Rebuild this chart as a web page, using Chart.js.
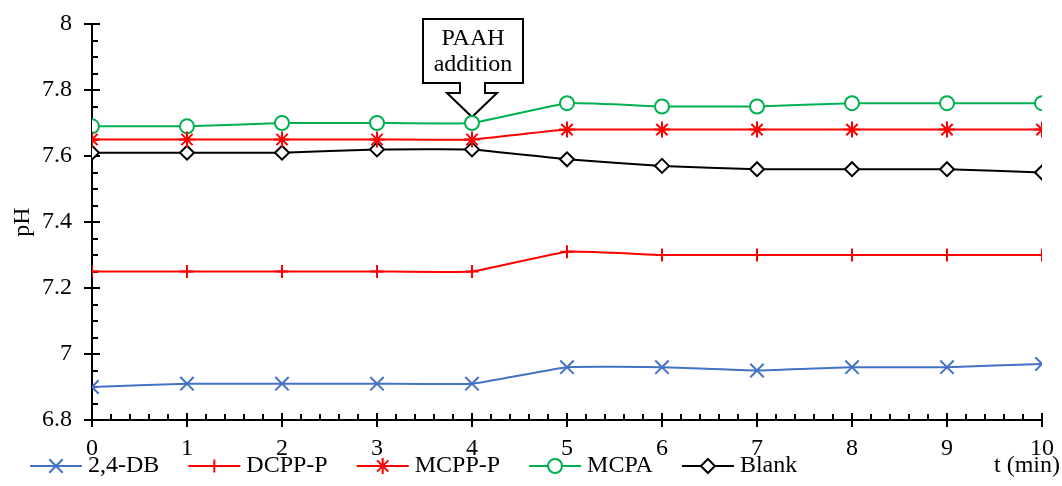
<!DOCTYPE html>
<html>
<head>
<meta charset="utf-8">
<script src="https://cdn.jsdelivr.net/npm/chart.js@4"></script>
<style>
  body { margin: 0; background: #fff; }
  #wrap { width: 1062px; height: 486px; position: relative; }
</style>
</head>
<body>
<div id="wrap"><canvas id="myChart"></canvas></div>
<script>
// data
const times = [0, 1, 2, 3, 4, 5, 6, 7, 8, 9, 10];
const db24 = [6.90, 6.91, 6.91, 6.91, 6.91, 6.96, 6.96, 6.95, 6.96, 6.96, 6.97];
const dcppP = [7.25, 7.25, 7.25, 7.25, 7.25, 7.31, 7.30, 7.30, 7.30, 7.30, 7.30];
const mcppP = [7.65, 7.65, 7.65, 7.65, 7.65, 7.68, 7.68, 7.68, 7.68, 7.68, 7.68];
const mcpa = [7.69, 7.69, 7.70, 7.70, 7.70, 7.76, 7.75, 7.75, 7.76, 7.76, 7.76];
const blank = [7.61, 7.61, 7.61, 7.62, 7.62, 7.59, 7.57, 7.56, 7.56, 7.56, 7.55];
const seriesNames = ['2,4-DB', 'DCPP-P', 'MCPP-P', 'MCPA', 'Blank'];
const yTicks = [6.8, 7, 7.2, 7.4, 7.6, 7.8, 8];
const annotationAt = { t: 4, ph: 7.70 };

const FONT = '"Liberation Serif", "Times New Roman", serif';
const FS = 24;

function pts(arr) {
  return arr.map((v, i) => ({ x: times[i], y: v }));
}

function series(label, arr, color, style, radius, fill) {
  return {
    label: label,
    data: pts(arr),
    borderColor: color,
    backgroundColor: fill || color,
    borderWidth: 2,
    pointStyle: style,
    pointRadius: radius,
    pointHoverRadius: radius,
    pointBorderWidth: 2,
    pointBorderColor: color,
    pointBackgroundColor: fill || color,
    tension: 0.1
  };
}

const data = {
  datasets: [
    series(seriesNames[0], db24, '#4472C4', 'crossRot', 9.5),
    series(seriesNames[1], dcppP, '#FF0000', 'cross', 6.5),
    series(seriesNames[2], mcppP, '#FF0000', 'star', 8),
    series(seriesNames[3], mcpa, '#00B050', 'circle', 7, '#FFFFFF'),
    series(seriesNames[4], blank, '#000000', 'rectRot', 7, '#FFFFFF')
  ]
};

// tick marks, legend, callout
const extras = {
  id: 'extras',
  beforeDatasetsDraw(chart) {
    const ctx = chart.ctx;
    const xs = chart.scales.x, ys = chart.scales.y;
    const ca = chart.chartArea;
    ctx.save();
    ctx.strokeStyle = '#000';
    ctx.lineWidth = 2;
    // y ticks
    for (let v = 6.8; v <= 8.0001; v += 0.05) {
      const py = Math.round(ys.getPixelForValue(v));
      const major = Math.abs(v * 5 - Math.round(v * 5)) < 0.001;
      ctx.beginPath();
      ctx.moveTo(major ? ca.left - 8 : ca.left, py);
      ctx.lineTo(ca.left + (major ? 8 : 6), py);
      ctx.stroke();
    }
    // x ticks
    for (let t = 0; t <= 10.0001; t += 0.2) {
      const px = Math.round(xs.getPixelForValue(t));
      const major = Math.abs(t - Math.round(t)) < 0.001;
      ctx.beginPath();
      ctx.moveTo(px, ca.bottom + (major ? 7 : 0));
      ctx.lineTo(px, ca.bottom - (major ? 7 : 6));
      ctx.stroke();
    }

    // callout
    const tx = xs.getPixelForValue(annotationAt.t);
    const ty = ys.getPixelForValue(annotationAt.ph) - 6;
    ctx.beginPath();
    ctx.moveTo(tx - 49, ty - 98);
    ctx.lineTo(tx + 51, ty - 98);
    ctx.lineTo(tx + 51, ty - 34);
    ctx.lineTo(tx + 13, ty - 34);
    ctx.lineTo(tx + 13, ty - 24);
    ctx.lineTo(tx + 25, ty - 24);
    ctx.lineTo(tx, ty);
    ctx.lineTo(tx - 25, ty - 24);
    ctx.lineTo(tx - 12, ty - 24);
    ctx.lineTo(tx - 12, ty - 34);
    ctx.lineTo(tx - 49, ty - 34);
    ctx.closePath();
    ctx.fillStyle = '#fff';
    ctx.fill();
    ctx.stroke();
    ctx.fillStyle = '#000';
    ctx.font = FS + 'px ' + FONT;
    ctx.textAlign = 'center';
    ctx.textBaseline = 'middle';
    ctx.fillText('PAAH', tx + 1, ty - 78);
    ctx.fillText('addition', tx + 1, ty - 52);
    ctx.restore();
  },
  afterDraw(chart) {
    const ctx = chart.ctx;
    ctx.save();
    ctx.font = FS + 'px ' + FONT;
    ctx.textBaseline = 'middle';
    const ly = 466;
    let x = 30;
    chart.data.datasets.forEach((ds) => {
      ctx.strokeStyle = ds.borderColor;
      ctx.lineWidth = 2;
      ctx.beginPath();
      ctx.moveTo(x, ly);
      ctx.lineTo(x + 52, ly);
      ctx.stroke();
      ctx.fillStyle = ds.pointBackgroundColor;
      ctx.strokeStyle = ds.pointBorderColor;
      ctx.lineWidth = 2;
      Chart.helpers.drawPoint(ctx, {
        pointStyle: ds.pointStyle,
        radius: ds.pointRadius,
        borderWidth: 2
      }, x + 26, ly);
      ctx.fillStyle = '#000';
      ctx.textAlign = 'left';
      ctx.fillText(ds.label, x + 58, ly);
      x += 58 + ctx.measureText(ds.label).width + 29;
    });
    ctx.textAlign = 'right';
    ctx.fillStyle = '#000';
    ctx.fillText('t (min)', 1060, ly);
    ctx.restore();
  }
};

const config = {
  type: 'line',
  data,
  options: {
    responsive: true,
    maintainAspectRatio: false,
    animation: false,
    layout: { padding: { left: 0, right: 20, top: 24, bottom: 0 } },
    plugins: {
      legend: { display: false },
      tooltip: { enabled: false }
    },
    scales: {
      x: {
        type: 'linear',
        min: 0,
        max: 10,
        grid: { display: false, drawTicks: false },
        border: { display: true, color: '#000', width: 2 },
        ticks: {
          stepSize: 1,
          padding: 14,
          color: '#000',
          font: { family: FONT, size: FS }
        },
        afterFit(scale) {
          scale.height = 66;
          scale.paddingLeft = 0;
          scale.paddingRight = 0;
        }
      },
      y: {
        min: 6.8,
        max: 8,
        grid: { display: false, drawTicks: false },
        border: { display: true, color: '#000', width: 2 },
        title: {
          display: true,
          text: 'pH',
          color: '#000',
          font: { family: FONT, size: FS },
          padding: { top: 8, bottom: 0 }
        },
        ticks: {
          stepSize: 0.2,
          padding: 20,
          color: '#000',
          font: { family: FONT, size: FS },
          callback: (v) => {
            const hit = yTicks.find(t => Math.abs(t - v) < 1e-6);
            return hit === undefined ? '' : String(hit);
          }
        },
        afterFit(scale) {
          scale.width = 92;
          scale.paddingTop = 0;
          scale.paddingBottom = 0;
        }
      }
    }
  },
  plugins: [extras]
};

const myChart = new Chart(document.getElementById('myChart'), config);
</script>
</body>
</html>
